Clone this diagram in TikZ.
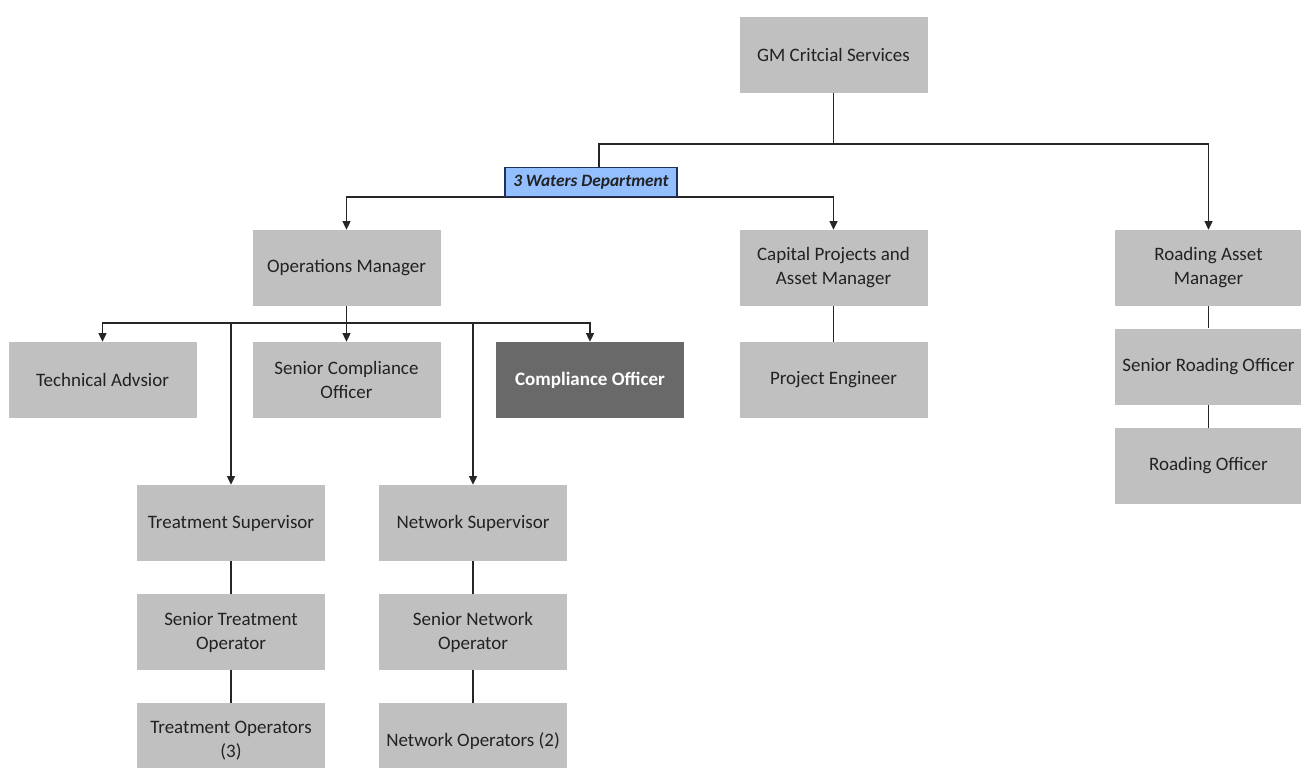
\documentclass[tikz,border=0pt]{standalone}
\usepackage{fontspec}
\setmainfont{Carlito}
\usetikzlibrary{arrows.meta,backgrounds}
\definecolor{boxgray}{HTML}{C0C0C0}
\definecolor{darkbox}{HTML}{696969}
\definecolor{txt}{HTML}{222222}
\definecolor{lblue}{HTML}{94BFFF}
\definecolor{navy}{HTML}{1F2F5F}
\definecolor{linec}{HTML}{262626}
\begin{document}
\begin{tikzpicture}[x=0.75pt,y=-0.75pt,
  orgbox/.style={rectangle,fill=boxgray,draw=none,minimum width=141pt,minimum height=57pt,
    inner sep=0pt,align=center,text=txt,font=\fontsize{14.25}{18}\selectfont},
  darkorg/.style={orgbox,fill=darkbox,text=white,font=\fontsize{14.25}{18}\selectfont\bfseries},
  deptlabel/.style={rectangle,fill=lblue,draw=navy,line width=0.8pt,minimum width=129pt,minimum height=21.75pt,
    inner sep=0pt,text=txt,font=\fontsize{13}{15}\selectfont\bfseries\itshape},
  link/.style={draw=linec,line width=1pt},
  arr/.style={link,-{Triangle[length=6.5pt,width=6pt]}}]
\useasboundingbox (0,0) rectangle (1301,767);
\clip (0,0) rectangle (1301,767);
% nodes
\node[orgbox] (gm) at (833.5,55) {GM Critcial Services};
\node[orgbox] (ops) at (346.5,268) {Operations Manager};
\node[orgbox] (cap) at (833.5,268) {Capital Projects and\\Asset Manager};
\node[orgbox] (ram) at (1208.5,268) {Roading Asset\\Manager};
\node[orgbox] (tech) at (102.5,380) {Technical Advsior};
\node[orgbox] (scomp) at (346.5,380) {Senior Compliance\\Officer};
\node[darkorg] (comp) at (590,380) {Compliance Officer};
\node[orgbox] (pe) at (833.5,380) {Project Engineer};
\node[orgbox] (sro) at (1208.5,366.5) {Senior Roading Officer};
\node[orgbox] (ro) at (1208.5,466) {Roading Officer};
\node[orgbox] (tsup) at (231,523) {Treatment Supervisor};
\node[orgbox] (nsup) at (473,523) {Network Supervisor};
\node[orgbox] (sto) at (231,632) {Senior Treatment\\Operator};
\node[orgbox] (sno) at (473,632) {Senior Network\\Operator};
\node[orgbox] (to) at (231,741) {Treatment Operators\\(3)};
\node[orgbox] (no) at (473,741) {Network Operators (2)};
\node[deptlabel,anchor=south] (waters) at (591,197) {3 Waters Department};
% junctions
\coordinate (j1) at (833.5,144);
\coordinate (obr) at (346.5,323);
% connectors
\begin{pgfonlayer}{background}
\draw[arr] (gm.south) -- (j1) -| (ram.north);
\draw[link] (j1) -| ([xshift=6pt]waters.north);
\draw[arr] (waters.south) -| (ops.north);
\draw[arr] (waters.south) -| (cap.north);
\draw[link] (ops.south) -- (obr);
\draw[arr] (obr) -| (tech.north);
\draw[arr] (obr) -- (scomp.north);
\draw[arr] (obr) -| (comp.north);
\draw[arr] (obr) -| (tsup.north);
\draw[arr] (obr) -| (nsup.north);
\draw[link] (cap) -- (pe);
\draw[link] (ram) -- (sro);
\draw[link] (sro) -- (ro);
\draw[link] (tsup) -- (sto);
\draw[link] (sto) -- (to);
\draw[link] (nsup) -- (sno);
\draw[link] (sno) -- (no);
\end{pgfonlayer}
\end{tikzpicture}
\end{document}
